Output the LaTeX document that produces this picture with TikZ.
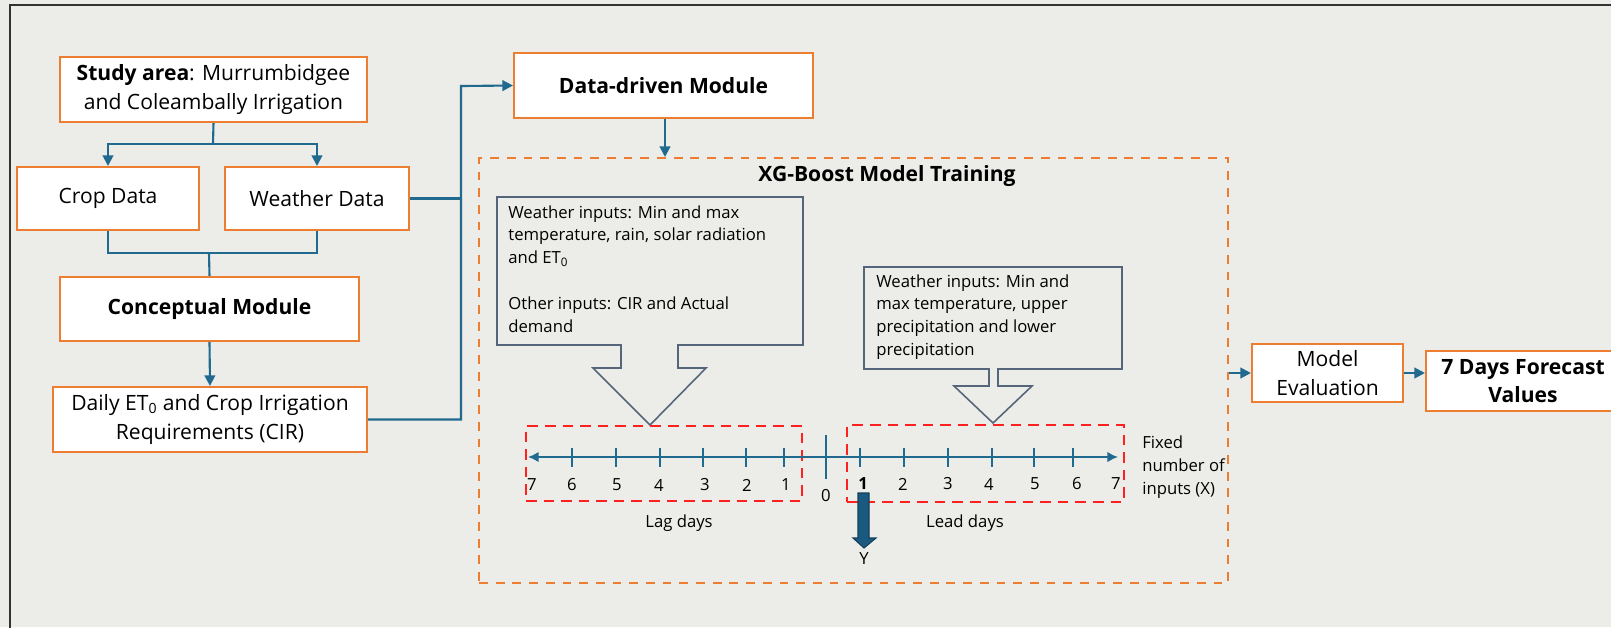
\documentclass[tikz,border=0pt]{standalone}
\usepackage{fontspec}
\setmainfont{Open Sans}
\usetikzlibrary{arrows.meta}

\definecolor{bgcol}{HTML}{ECECE8}
\definecolor{boxorange}{HTML}{ED7D31}
\definecolor{linkblue}{HTML}{1F6A8E}
\definecolor{calloutgray}{HTML}{56667A}
\definecolor{lagred}{HTML}{FF2020}
\definecolor{ydark}{HTML}{1B5A80}

\begin{document}
\begin{tikzpicture}[x=0.02cm, y=-0.02cm,
    box/.style={draw=boxorange, line width=1.2pt, fill=white, align=center,
      inner sep=2pt, font=\fontsize{12}{16.4}\selectfont},
    link/.style={draw=linkblue, line width=1.2pt},
    arr/.style={link, -{Triangle[length=6pt, width=6pt]}},
    small/.style={font=\fontsize{9.5}{13}\selectfont, inner sep=0pt},
    daybox/.style={draw=lagred, line width=1.5pt, dash pattern=on 6pt off 4pt},
    callout/.style={draw=calloutgray, line width=0.9pt}]

    \useasboundingbox (0,0) rectangle (1611,627);
    \clip (0,0) rectangle (1611,627);
    \fill[bgcol] (0,0) rectangle (1611,627);
    \draw[black!80, line width=1.3pt] (10,700) -- (10,5) -- (1700,5);

    % left column
    \node[box, minimum width=6.14cm, minimum height=1.30cm] (study)   at (213.5, 89.5) {\textbf{Study area}: Murrumbidgee\\and Coleambally Irrigation};
    \node[box, minimum width=3.64cm, minimum height=1.26cm] (crop)    at (108, 198.5)  {Crop Data};
    \node[box, minimum width=3.68cm, minimum height=1.26cm] (weather) at (317, 198.5)  {Weather Data};
    \node[box, minimum width=5.98cm, minimum height=1.28cm] (concept) at (209.5, 309)  {\textbf{Conceptual Module}};
    \node[box, minimum width=6.28cm, minimum height=1.30cm] (daily)   at (210, 419.5)  {Daily ET\textsubscript{0} and Crop Irrigation\\Requirements (CIR)};

    % right part
    \node[box, minimum width=5.98cm, minimum height=1.30cm] (dd)       at (663.5, 85.5) {\textbf{Data-driven Module}};
    \node[box, minimum width=3.02cm, minimum height=1.16cm] (eval)     at (1327.5, 373) {Model\\Evaluation};
    \node[box, minimum width=3.88cm, minimum height=1.20cm] (forecast) at (1523, 381)   {\textbf{7 Days Forecast}\\\textbf{Values}};

    \node[draw=boxorange, line width=1.2pt, dash pattern=on 5pt off 4.5pt,
      minimum width=14.98cm, minimum height=8.50cm] (xgb) at (853.5, 370.5) {};
    \node[font=\fontsize{12}{14}\selectfont\bfseries] (title) at (887, 176) {XG-Boost Model Training};

    \coordinate (split) at (213, 144);
    \coordinate (merge) at (209, 253);
    \coordinate (bus)   at (461, 86);

    \draw[link] (study.south) -- (split);
    \draw[arr]  (split) -| (crop.north);
    \draw[arr]  (split) -| (weather.north);
    \draw[link] (crop.south) |- (merge);
    \draw[link] (weather.south) |- (merge);
    \draw[link] (merge) -- (concept.north);
    \draw[arr]  (concept.south) -- (daily.north);
    \draw[arr]  (daily.east) -| (bus) -- (dd.west);
    \draw[link] (weather.east) -- (weather.east -| bus);
    \draw[arr]  (dd.south -| 665,0) -- (xgb.north -| 665,0);
    \draw[arr]  (eval.west -| xgb.east) -- (eval.west);
    \draw[arr]  (eval.east) -- (eval.east -| forecast.west);

    % callouts
    \draw[callout] (497,197) -- (803,197) -- (803,345) -- (678,345) -- (678,368) -- (706,368)
      -- (650,425) -- (593,368) -- (621,368) -- (621,345) -- (497,345) -- cycle;
    \draw[callout] (864,267) -- (1122,267) -- (1122,369) -- (998,369) -- (998,386) -- (1032,386)
      -- (993,423) -- (954,386) -- (989,386) -- (989,369) -- (864,369) -- cycle;
    \node[small, anchor=north west, align=left] (lagin) at (508, 205)
      {Weather inputs: Min and max\\temperature, rain, solar radiation\\and ET\textsubscript{0}\\[13pt]Other inputs: CIR and Actual\\demand};
    \node[small, anchor=north west, align=left] (leadin) at (876, 274)
      {Weather inputs: Min and\\max temperature, upper\\precipitation and lower\\precipitation};

    % timeline
    \node[daybox, minimum width=5.52cm, minimum height=1.50cm] (lagbox)  at (664, 463.5) {};
    \node[daybox, minimum width=5.54cm, minimum height=1.54cm] (leadbox) at (985.5, 463.5) {};
    \coordinate (axL) at (528, 457);
    \coordinate (axR) at (1118, 457);
    \draw[link, {Latex[length=6pt, width=6pt]}-{Latex[length=6pt, width=6pt]}] (axL) -- (axR);
    \foreach \x in {572, 616, 660, 703, 746, 784, 860, 904, 948, 992, 1034, 1073}
      \draw[link] (\x, 448) -- (\x, 467);
    \draw[link] (826, 435) -- (826, 479);

    \foreach \x/\l [count=\i] in {786/1, 747/2, 705/3, 659/4, 617/5, 572/6, 532/7}
      \node[small] (lag\i) at (\x, 485) {\l};
    \foreach \x/\l [count=\i] in {903/2, 948/3, 989/4, 1035/5, 1077/6, 1116/7}
      \node[small] (lead\i) at (\x, 484) {\l};
    \node[small, font=\fontsize{9.5}{13}\selectfont\bfseries] (lead0) at (863, 484) {1};
    \node[small] (zero) at (826, 496) {0};
    \node[small] (lagtxt)  at (679, 523) {Lag days};
    \node[small] (leadtxt) at (965, 523) {Lead days};
    \node[small, anchor=west, align=left] (fixed) at (1142, 467) {Fixed\\number of\\inputs (X)};

    \filldraw[fill=ydark, draw=ydark!70!black, line width=0.6pt] (858,493) -- (869,493) -- (869,538)
      -- (876,538) -- (864,548) -- (853,538) -- (858,538) -- cycle;
    \node[small] (ylab) at (864, 559) {Y};

  \end{tikzpicture}
\end{document}
